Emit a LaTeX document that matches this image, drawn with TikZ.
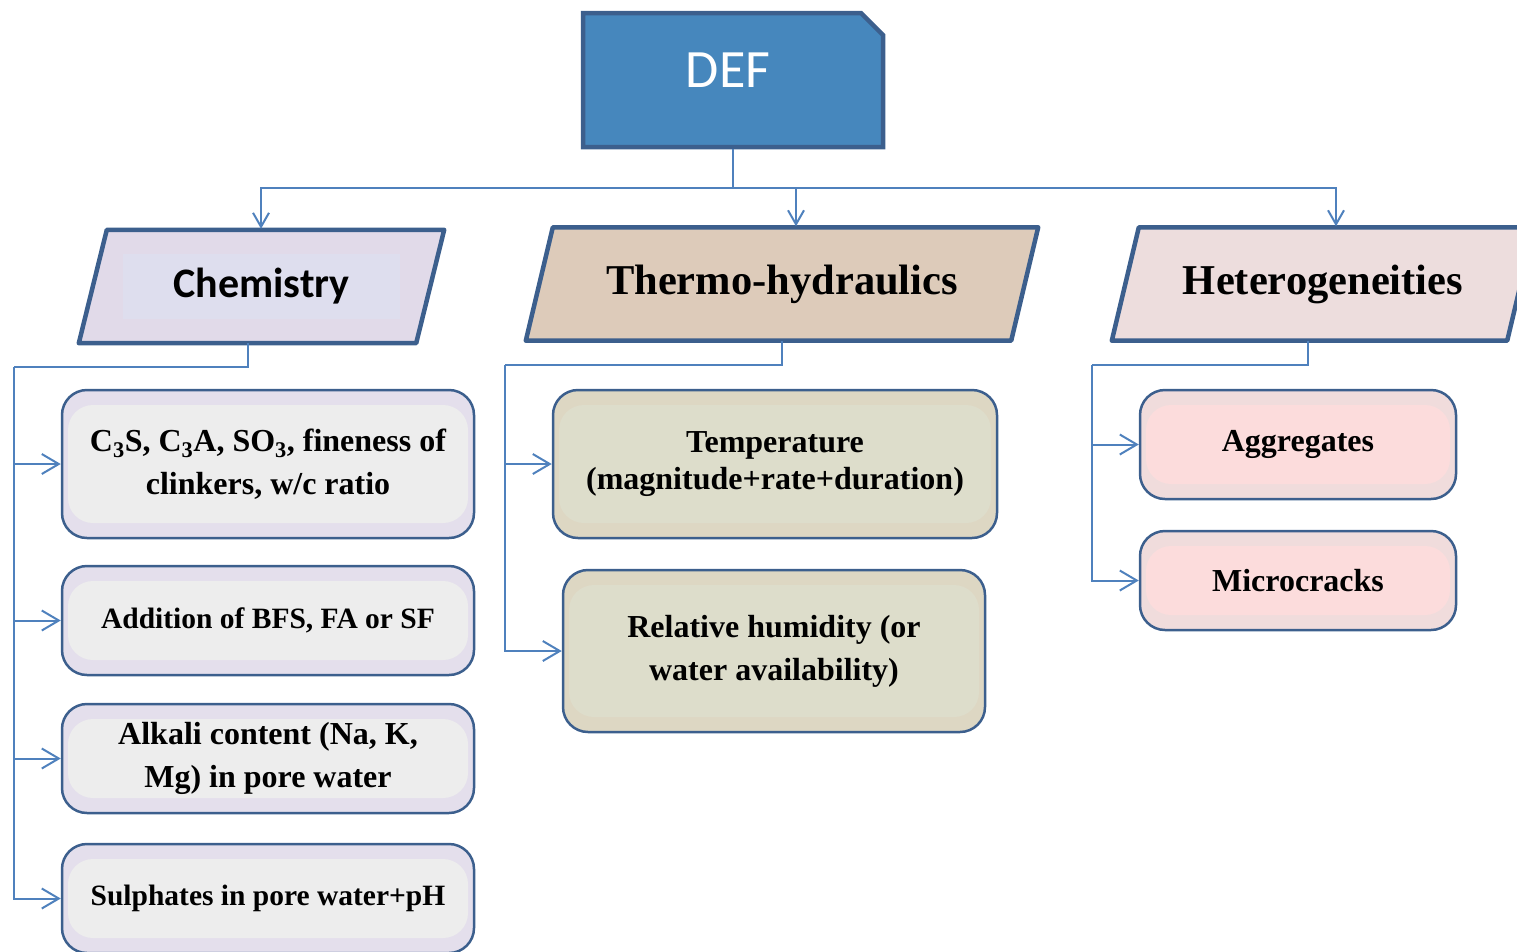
\documentclass[tikz,border=0pt]{standalone}
\usepackage{fontspec}
\setmainfont{Liberation Serif}
\newfontfamily\calfont{Carlito}
\usetikzlibrary{arrows.meta,shapes.misc,backgrounds}
\definecolor{edgeblue}{HTML}{3C5F8D}
\definecolor{lineblue}{HTML}{4F81BD}
\definecolor{deffill}{HTML}{4687BD}
\definecolor{chemfill}{HTML}{E1DAE9}
\definecolor{cheminner}{HTML}{DEDEEE}
\definecolor{thermofill}{HTML}{DDCBBA}
\definecolor{hetfill}{HTML}{EDDDDD}
\definecolor{chemboxout}{HTML}{E4DFEC}
\definecolor{chemboxin}{HTML}{EDEDED}
\definecolor{thboxout}{HTML}{DDD7C3}
\definecolor{thboxin}{HTML}{DDDDCB}
\definecolor{hetboxout}{HTML}{F0DCDC}
\definecolor{hetboxin}{HTML}{FCDCDC}
\begin{document}
\begin{tikzpicture}[x=1pt,y=-1pt,
  defbox/.style={chamfered rectangle, chamfered rectangle corners=north east,
    chamfered rectangle xsep=11pt, chamfered rectangle ysep=11pt,
    minimum width=300pt, minimum height=134pt, inner sep=0pt,
    fill=deffill, draw=edgeblue, line width=4.5pt, text=white,
    text depth=20pt, font=\calfont\fontsize{54}{60}\selectfont},
  paratext/.style={rectangle, inner sep=0pt, minimum height=113pt},
  para/.style={draw=edgeblue, line width=4.5pt, line join=round},
  itembox/.style={rectangle, rounded corners=25pt, draw=edgeblue, line width=2.5pt,
    align=center, inner sep=0pt, font=\bfseries\fontsize{32}{43}\selectfont},
  band/.style 2 args={fill=#1, path picture={\fill[#2]
    ([xshift=6pt,yshift=-15pt]path picture bounding box.north west) rectangle
    ([xshift=-6pt,yshift=15pt]path picture bounding box.south east);}},
  link/.style={draw=lineblue, line width=2pt},
  arr/.style={link, -{Straight Barb[length=17pt,width=20pt,line width=2pt]}},
  darr/.style={link, -{Straight Barb[length=14pt,width=16pt,line width=2pt]}, shorten >=1pt}
]
\clip (0,0) rectangle (1517,951);

% top node
\node[defbox] (def) at (733,80) {DEF\hspace*{10pt}};

% category parallelograms (text nodes, shapes on background)
\node[paratext, minimum width=337pt, font=\calfont\bfseries\fontsize{42}{48}\selectfont] (chem) at (261.5,286.5) {Chemistry};
\node[paratext, minimum width=485pt, font=\bfseries\fontsize{42.5}{48}\selectfont] (thermo) at (782,284) {Thermo-hydraulics};
\node[paratext, minimum width=395pt, font=\bfseries\fontsize{42.5}{48}\selectfont] (het) at (1323,284) {Heterogeneities};

\begin{scope}[on background layer]
  \draw[para, fill=chemfill] ([xshift=14pt]chem.north west) -- ([xshift=14pt]chem.north east)
     -- ([xshift=-14pt]chem.south east) -- ([xshift=-14pt]chem.south west) -- cycle;
  \fill[cheminner] (123,254) rectangle (400,319);
  \draw[para, fill=thermofill] ([xshift=13.5pt]thermo.north west) -- ([xshift=13.5pt]thermo.north east)
     -- ([xshift=-13.5pt]thermo.south east) -- ([xshift=-13.5pt]thermo.south west) -- cycle;
  \draw[para, fill=hetfill] ([xshift=13.5pt]het.north west) -- ([xshift=13.5pt]het.north east)
     -- ([xshift=-13.5pt]het.south east) -- ([xshift=-13.5pt]het.south west) -- cycle;
\end{scope}

% item boxes
\node[itembox, band={chemboxout}{chemboxin}, minimum width=412pt, minimum height=148pt] (c1) at (268,464)
  {C\textsubscript{3}S, C\textsubscript{3}A, SO\textsubscript{3}, fineness of\\clinkers, w/c ratio};
\node[itembox, band={chemboxout}{chemboxin}, minimum width=412pt, minimum height=109pt,
  font=\bfseries\fontsize{29.5}{38}\selectfont] (c2) at (268,620.5) {Addition of BFS, FA or SF};
\node[itembox, band={chemboxout}{chemboxin}, minimum width=412pt, minimum height=109pt] (c3) at (268,758.5)
  {Alkali content (Na, K,\\Mg) in pore water};
\node[itembox, band={chemboxout}{chemboxin}, minimum width=412pt, minimum height=109pt,
  font=\bfseries\fontsize{29.5}{38}\selectfont] (c4) at (268,898.5) {Sulphates in pore water+pH};

\node[itembox, band={thboxout}{thboxin}, minimum width=444pt, minimum height=148pt,
  font=\bfseries\fontsize{32}{37}\selectfont] (t1) at (775,464)
  {Temperature\\(magnitude+rate+duration)};
\node[itembox, band={thboxout}{thboxin}, minimum width=422pt, minimum height=162pt] (t2) at (774,651)
  {Relative humidity (or\\water availability)};

\node[itembox, band={hetboxout}{hetboxin}, minimum width=316pt, minimum height=109pt] (h1) at (1298,444.5) {Aggregates};
\node[itembox, band={hetboxout}{hetboxin}, minimum width=316pt, minimum height=99pt] (h2) at (1298,580.5) {Microcracks};

% top connectors
\coordinate (hub) at (733,188);
\draw[link] (def.south) -- (hub);
\draw[darr] (hub) -| ([xshift=-0.5pt]chem.north);
\draw[darr] (hub) -| ([xshift=14pt]thermo.north);
\draw[darr] (hub) -| ([xshift=13pt]het.north);

% chemistry branch
\coordinate (ca) at (14,367);
\draw[link] ([xshift=-14pt]chem.south) |- (ca);
\draw[arr] (ca) |- (c1.west);
\draw[arr] (ca) |- (c2.west);
\draw[arr] (ca) |- (c3.west);
\draw[arr] (ca) |- (c4.west);

% thermo branch
\coordinate (ta) at (505,365);
\draw[link] (thermo.south) |- (ta);
\draw[arr] (ta) |- (t1.west);
\draw[arr] (ta) |- (t2.west);

% heterogeneities branch
\coordinate (ha) at (1092,365);
\draw[link] ([xshift=-15pt]het.south) |- (ha);
\draw[arr] (ha) |- (h1.west);
\draw[arr] (ha) |- (h2.west);
\end{tikzpicture}
\end{document}
